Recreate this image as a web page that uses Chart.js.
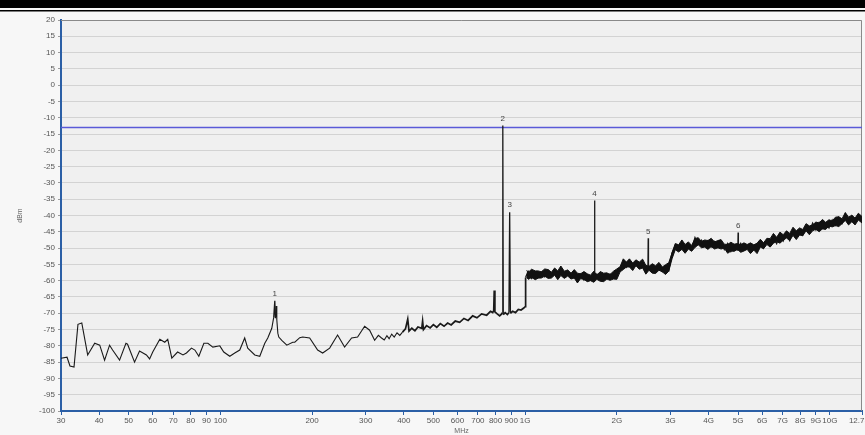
<!DOCTYPE html>
<html>
<head>
<meta charset="utf-8">
<script src="https://cdn.jsdelivr.net/npm/chart.js@4"></script>
<style>
  html, body { margin: 0; padding: 0; background: #f6f6f6; }
  #wrap { width: 865px; height: 435px; position: relative; }
</style>
</head>
<body>
<div id="wrap"><canvas id="spectrum"></canvas></div>
<script>
// Frequency (MHz) and level (dBm) of the measured trace
const traceMHz = [
    30, 31.4, 32.1, 33.1, 34.1, 35.1, 36.7, 38.7, 40.2, 41.7,
    43.3, 44.3, 46.7, 49.0, 49.6, 52.3, 54.3, 57.2, 58.6, 60.0,
    63.3, 65.7, 67.2, 69.3, 72.4, 75.4, 77.4, 80.4, 82.5, 85.0,
    88.3, 91.0, 94.5, 99.6, 102.6, 107.4, 111.5, 115.8, 120.2, 123.0,
    129.7, 134.7, 139.9, 143.1, 147.5, 149.7, 150.9, 151.6, 152.3, 153.2,
    154.4, 155.5, 159.1, 165.2, 172.8, 175.5, 182.2, 186.3, 196.4, 208.6,
    216.6, 228.4, 242.5, 255.7, 269.6, 282.1, 297.5, 308.9, 320.8, 330,
    338, 345, 352, 358, 365, 372, 380, 388,
    396, 405, 412, 416, 425, 435, 445, 458, 461,
    464, 475, 488, 500, 513, 527, 542, 557, 572, 590,
    610, 630, 650, 673, 695, 720, 748, 770, 783, 789,
    792, 796, 810, 825, 838, 842, 845, 848, 860, 875,
    885, 890, 895, 910, 930, 950, 970, 990, 1000, 1004,
    1012, 1025, 1050, 1080, 1105, 1130, 1160, 1190, 1220, 1250,
    1280, 1310, 1345, 1380, 1415, 1450, 1485, 1520, 1560, 1600,
    1640, 1680, 1686, 1690, 1694, 1720, 1765, 1810, 1855, 1900,
    1950, 2000, 2050, 2100, 2150, 2200, 2255, 2310, 2370, 2430,
    2490, 2530, 2535, 2540, 2615, 2680, 2750, 2820, 2890, 2960,
    3035, 3110, 3190, 3270, 3350, 3435, 3520, 3610, 3700, 3790,
    3885, 3980, 4080, 4185, 4290, 4395, 4505, 4620, 4735, 4855,
    4975, 4990, 5000, 5010, 5100, 5225, 5355, 5490, 5630, 5770,
    5915, 6060, 6215, 6370, 6530, 6690, 6860, 7030, 7205, 7385,
    7570, 7760, 7955, 8150, 8355, 8565, 8780, 9000, 9225, 9455,
    9690, 9935, 10180, 10435, 10700, 10965, 11240, 11520, 11810, 12100,
    12400, 12750
];
const traceDbm = [
    -83.8, -83.5, -86.2, -86.5, -73.4, -73.0, -82.8, -79.2, -79.8, -84.4,
    -79.8, -81.3, -84.4, -79.2, -79.5, -85.0, -81.6, -82.8, -84.0, -81.9,
    -78.0, -78.9, -78.0, -83.8, -81.9, -82.8, -82.2, -80.7, -81.3, -83.2,
    -79.2, -79.2, -80.4, -80.0, -81.9, -83.2, -82.2, -81.3, -77.6, -80.7,
    -82.8, -83.2, -79.2, -77.6, -74.6, -71.2, -66.2, -71.5, -67.8, -72.0,
    -76.1, -77.3, -78.3, -79.8, -78.9, -78.9, -77.5, -77.3, -77.6, -81.3,
    -82.2, -80.7, -76.7, -80.4, -77.6, -77.3, -74.0, -75.2, -78.3, -76.8,
    -77.6, -78.2, -76.9, -77.8, -76.4, -77.3, -76.0, -76.8,
    -75.8, -74.8, -71.8, -75.5, -74.6, -75.4, -74.2, -74.6, -72.4,
    -75.0, -73.8, -74.5, -73.5, -74.3, -73.2, -74.0, -73.0, -73.6, -72.4,
    -72.8, -71.6, -72.2, -70.8, -71.4, -70.2, -70.6, -69.4, -69.8, -69.2,
    -63.0, -69.6, -70.2, -70.8, -70.2, -69.8, -12.4, -70.4, -69.8, -70.4,
    -69.8, -39.0, -70.0, -69.4, -69.8, -68.8, -69.0, -68.4, -68.0, -59.0,
    -58.2, -57.2, -59.3, -57.6, -59.0, -57.4, -58.8, -56.9, -58.6, -57.0,
    -58.9, -56.8, -58.4, -57.1, -58.7, -57.6, -59.6, -58.0, -59.8, -58.3,
    -59.7, -58.4, -59.2, -35.4, -59.0, -58.0, -59.6, -58.2, -59.4, -58.0,
    -59.1, -57.4, -56.2, -54.2, -55.8, -54.0, -55.9, -54.4, -56.0, -55.2,
    -56.8, -55.8, -47.0, -56.0, -55.4, -57.0, -55.6, -57.2, -55.8, -56.9,
    -51.5, -49.2, -50.4, -48.8, -50.6, -49.0, -50.4, -46.8, -48.8, -47.6,
    -49.4, -47.8, -49.6, -48.0, -49.8, -48.2, -50.4, -48.6, -51.0, -49.0,
    -50.6, -50.0, -45.2, -49.8, -48.6, -50.6, -49.2, -51.0, -49.4, -50.8,
    -48.4, -50.0, -47.6, -49.2, -46.8, -48.6, -45.8, -47.8, -45.4, -47.6,
    -44.6, -46.6, -44.4, -46.0, -43.6, -45.2, -42.4, -44.4, -42.2, -44.0,
    -42.6, -43.8, -41.4, -43.0, -40.6, -42.4, -39.6, -41.8, -40.2, -42.0,
    -40.4, -41.6
];

// Noise band above 1 GHz: upper and lower edge of the trace (dBm)
const bandMHz = [
    1012, 1025, 1050, 1080, 1105, 1130, 1160, 1190, 1220, 1250,
    1280, 1310, 1345, 1380, 1415, 1450, 1485, 1520, 1560, 1600,
    1640, 1680, 1720, 1765, 1810, 1855, 1900, 1950, 2000, 2050,
    2100, 2150, 2200, 2255, 2310, 2370, 2430, 2490, 2550, 2615,
    2680, 2750, 2820, 2890, 2960, 3035, 3110, 3190, 3270, 3350,
    3435, 3520, 3610, 3700, 3790, 3885, 3980, 4080, 4185, 4290,
    4395, 4505, 4620, 4735, 4855, 4975, 5100, 5225, 5355, 5490,
    5630, 5770, 5915, 6060, 6215, 6370, 6530, 6690, 6860, 7030,
    7205, 7385, 7570, 7760, 7955, 8150, 8355, 8565, 8780, 9000,
    9225, 9455, 9690, 9935, 10180, 10435, 10700, 10965, 11240, 11520,
    11810, 12100, 12400, 12750
];
const bandHi = [
    -56.8, -57.4, -56.5, -57.0, -57.0, -57.3, -56.4, -56.6, -57.4, -56.1,
    -57.0, -55.5, -57.1, -56.7, -57.7, -56.6, -57.7, -57.9, -57.2, -57.9,
    -58.3, -57.1, -58.3, -57.2, -57.7, -57.6, -58.1, -57.1, -56.4, -55.7,
    -53.3, -54.3, -53.3, -54.6, -53.6, -54.3, -53.4, -55.3, -55.6, -54.8,
    -55.4, -54.4, -55.8, -55.1, -54.5, -51.5, -48.6, -49.0, -47.5, -48.9,
    -48.1, -49.2, -47.1, -46.8, -48.0, -47.5, -47.7, -47.0, -48.1, -47.7,
    -47.4, -48.8, -48.9, -48.2, -48.8, -48.6, -49.0, -48.4, -48.9, -48.4,
    -49.0, -48.5, -47.3, -48.4, -47.0, -47.1, -45.5, -46.7, -45.1, -45.9,
    -44.7, -45.5, -43.6, -44.7, -43.8, -44.3, -42.5, -43.2, -42.9, -42.0,
    -42.3, -41.2, -42.1, -41.3, -41.7, -40.5, -40.4, -41.0, -39.1, -40.5,
    -39.9, -40.8, -39.3, -40.3
];
const bandLo = [
    -59.0, -59.6, -59.0, -59.7, -59.2, -59.2, -58.6, -59.3, -59.2, -58.3,
    -59.7, -58.4, -59.3, -58.6, -59.5, -59.2, -60.7, -59.4, -59.6, -60.3,
    -60.0, -60.5, -59.6, -60.2, -60.3, -59.5, -59.9, -59.5, -59.6, -57.3,
    -56.6, -55.8, -55.8, -56.9, -55.4, -56.5, -56.1, -58.0, -56.8, -57.7,
    -57.8, -56.8, -57.3, -58.1, -57.1, -53.3, -50.5, -51.2, -50.4, -51.6,
    -50.3, -51.0, -49.8, -49.0, -49.9, -49.7, -50.4, -49.5, -50.3, -49.9,
    -50.3, -50.0, -51.6, -50.9, -51.0, -50.4, -51.3, -50.9, -50.4, -51.7,
    -50.6, -51.7, -49.7, -50.2, -48.9, -49.7, -48.5, -48.0, -48.5, -47.6,
    -46.9, -47.7, -46.1, -47.4, -46.0, -46.2, -44.7, -45.9, -44.7, -44.2,
    -45.0, -44.1, -44.3, -43.2, -43.5, -43.1, -43.4, -42.5, -41.5, -42.9,
    -41.9, -42.9, -41.4, -42.3
];

// Numbered peak markers
const markerLabels = ['1', '2', '3', '4', '5', '6'];
const markerMHz = [150.9, 845, 890, 1690, 2535, 5000];
const markerDbm = [-66.2, -12.4, -39.0, -35.4, -47.0, -45.2];

// Limit line
const limitDbm = -13;

// Axis ticks
const xTickValues = [30, 40, 50, 60, 70, 80, 90, 100, 200, 300, 400, 500, 600, 700, 800, 900,
    1000, 2000, 3000, 4000, 5000, 6000, 7000, 8000, 9000, 10000, 12750];
const xTickLabels = ['30', '40', '50', '60', '70', '80', '90', '100', '200', '300', '400', '500', '600', '700', '800', '900',
    '1G', '2G', '3G', '4G', '5G', '6G', '7G', '8G', '9G', '10G', '12.75G'];
const yMin = -100, yMax = 20, yStep = 5;

const tracePoints = traceMHz.map((f, i) => ({ x: f, y: traceDbm[i] }));
const bandLoPoints = bandMHz.map((f, i) => ({ x: f, y: bandLo[i] }));
const bandHiPoints = bandMHz.map((f, i) => ({ x: f, y: bandHi[i] }));
const limitPoints = [{ x: xTickValues[0], y: limitDbm }, { x: xTickValues[xTickValues.length - 1], y: limitDbm }];
const spikeSet = new Set(markerMHz);

const AXIS_BLUE = '#2b5fa6';
const FONT = '"Liberation Sans", Arial, sans-serif';

const framePlugin = {
    id: 'frame',
    beforeDraw(chart) {
        const { ctx, chartArea: a, width } = chart;
        ctx.save();
        ctx.fillStyle = '#f7f7f7';
        ctx.fillRect(0, 0, width, chart.height);
        // header bars
        ctx.fillStyle = '#000';
        ctx.fillRect(0, 0, width, 8);
        ctx.fillRect(0, 10, width, 1.5);
        // plot background
        ctx.fillStyle = '#f0f0f0';
        ctx.fillRect(a.left, a.top, a.right - a.left, a.bottom - a.top);
        ctx.restore();
    },
    beforeDatasetsDraw(chart) {
        const { ctx, chartArea: a } = chart;
        ctx.save();
        ctx.strokeStyle = '#8a8a8a';
        ctx.lineWidth = 1;
        ctx.beginPath();
        ctx.moveTo(a.left, a.top + 0.5);
        ctx.lineTo(a.right - 0.5, a.top + 0.5);
        ctx.lineTo(a.right - 0.5, a.bottom);
        ctx.stroke();
        ctx.restore();
    },
    afterDatasetsDraw(chart) {
        const { ctx, scales } = chart;
        ctx.save();
        ctx.fillStyle = '#444';
        ctx.font = '8px ' + FONT;
        ctx.textAlign = 'center';
        ctx.textBaseline = 'bottom';
        markerLabels.forEach((lab, i) => {
            const px = scales.x.getPixelForValue(markerMHz[i]);
            const py = scales.y.getPixelForValue(markerDbm[i]);
            ctx.fillText(lab, px, py - 3);
        });
        ctx.restore();
    }
};

new Chart(document.getElementById('spectrum'), {
    type: 'line',
    data: {
        datasets: [{
            data: bandLoPoints,
            borderColor: '#111',
            borderWidth: 1,
            pointRadius: 0,
            fill: false
        }, {
            data: bandHiPoints,
            borderColor: '#111',
            borderWidth: 1,
            backgroundColor: '#111',
            pointRadius: 0,
            fill: '-1'
        }, {
            data: tracePoints,
            borderColor: '#1a1a1a',
            borderWidth: 1.1,
            pointRadius: 0,
            tension: 0,
            segment: {
                borderWidth: ctx => {
                    const f0 = ctx.p0.parsed.x, f1 = ctx.p1.parsed.x;
                    if (spikeSet.has(f0) || spikeSet.has(f1)) return 1.3;
                    if (f0 >= 1004) return 1.4;
                    if (f0 >= 390) return 1.7;
                    return 1.1;
                }
            }
        }, {
            data: limitPoints,
            borderColor: '#5a5ad8',
            borderWidth: 1.5,
            pointRadius: 0
        }]
    },
    options: {
        responsive: true,
        maintainAspectRatio: false,
        animation: false,
        layout: { padding: { top: 20, right: 3, bottom: 0, left: 0 } },
        plugins: {
            legend: { display: false },
            tooltip: { enabled: false }
        },
        scales: {
            x: {
                type: 'logarithmic',
                min: 30,
                max: 12750,
                afterBuildTicks: s => { s.ticks = xTickValues.map(v => ({ value: v })); },
                afterFit: s => { s.height = 24; s.paddingLeft = 0; s.paddingRight = 0; },
                ticks: {
                    autoSkip: false,
                    maxRotation: 0,
                    minRotation: 0,
                    padding: 1,
                    color: '#555',
                    font: { size: 8, family: FONT },
                    callback: (v, i) => xTickLabels[i]
                },
                grid: { drawOnChartArea: false, drawTicks: true, tickLength: 4, color: AXIS_BLUE },
                border: { color: AXIS_BLUE, width: 2 },
                title: {
                    display: true,
                    text: 'MHz',
                    color: '#666',
                    font: { size: 7, family: FONT },
                    padding: { top: 0, bottom: 0 }
                }
            },
            y: {
                min: yMin,
                max: yMax,
                afterFit: s => { s.width = 61; s.paddingTop = 0; s.paddingBottom = 0; },
                ticks: {
                    stepSize: yStep,
                    padding: 3,
                    color: '#555',
                    font: { size: 8, family: FONT }
                },
                grid: { color: '#d3d3d3', tickColor: '#9a9a9a', tickLength: 3, lineWidth: 1 },
                border: { color: AXIS_BLUE, width: 2 },
                title: {
                    display: true,
                    text: 'dBm',
                    color: '#666',
                    font: { size: 7, family: FONT },
                    padding: { top: 16, bottom: 0 }
                }
            }
        }
    },
    plugins: [framePlugin]
});
</script>
</body>
</html>
